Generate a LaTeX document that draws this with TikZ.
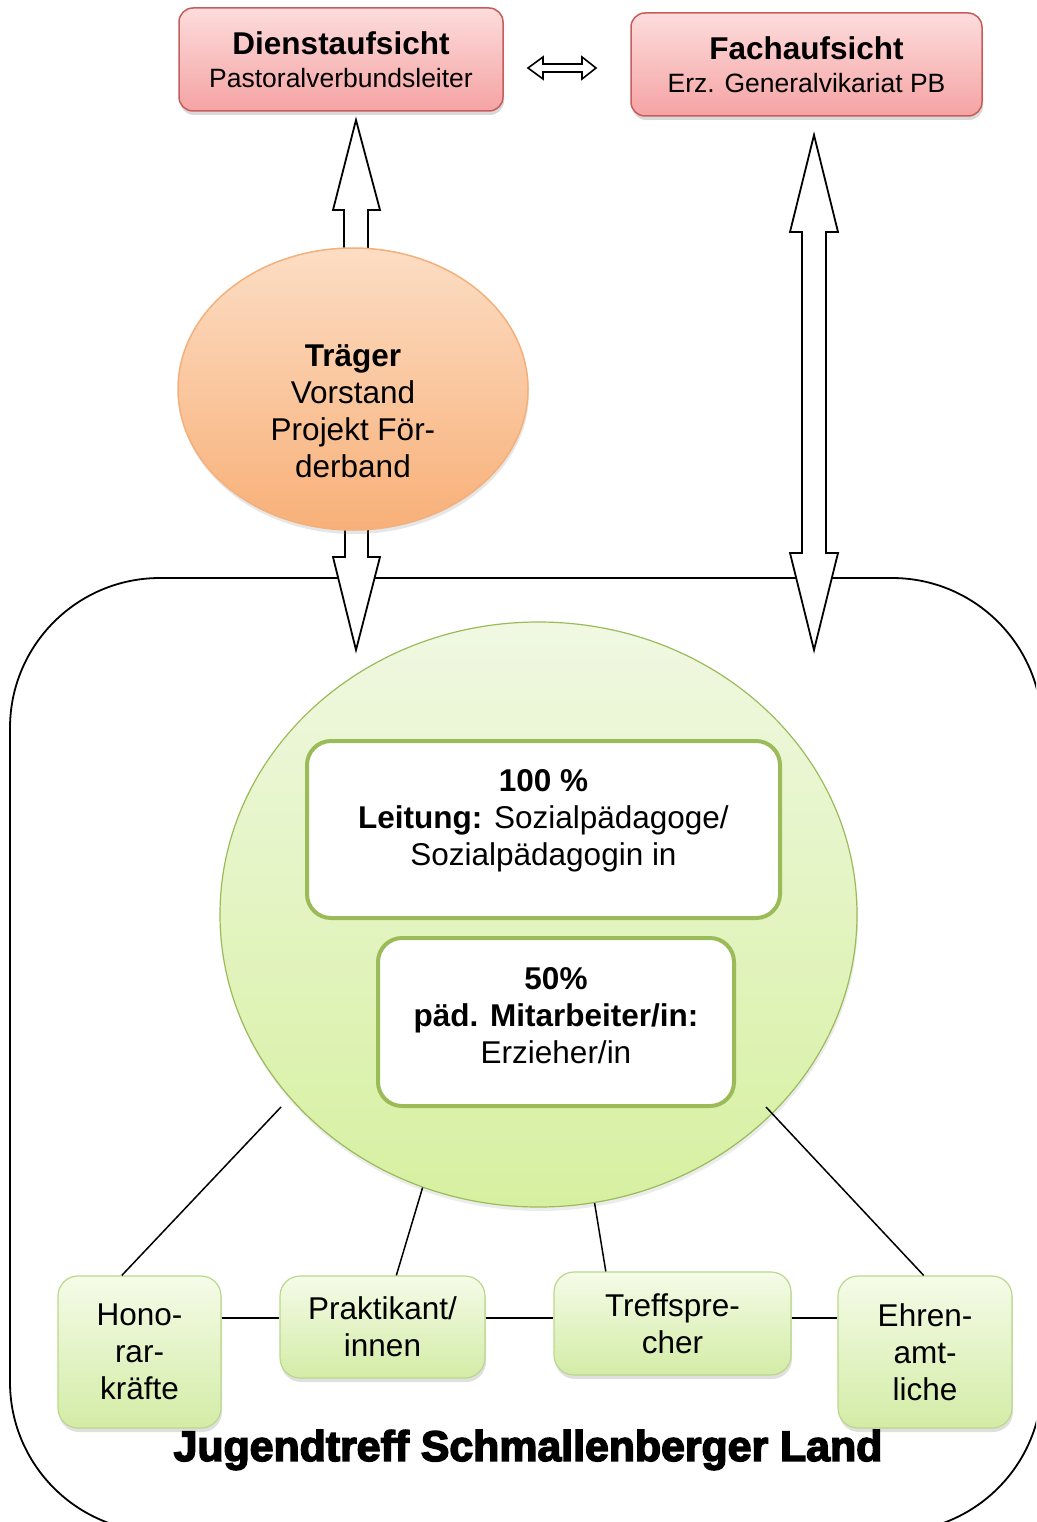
\documentclass[tikz,border=0pt]{standalone}
\usepackage{fontspec}
\setmainfont{Liberation Sans}
\newfontfamily\heavyfont[FakeBold=3.5]{Liberation Sans Bold}
\usetikzlibrary{shadows,shapes.geometric}
\definecolor{pinktop}{HTML}{FDDCDC}
\definecolor{pinkbot}{HTML}{F5A3A3}
\definecolor{pinkline}{HTML}{C65D5A}
\definecolor{orgtop}{HTML}{FCDDC4}
\definecolor{orgbot}{HTML}{F8B078}
\definecolor{orgline}{HTML}{F4B07A}
\definecolor{grntop}{HTML}{F0F8E2}
\definecolor{grnmid}{HTML}{D9EEB2}
\definecolor{grnbot}{HTML}{D6F0A0}
\definecolor{grnline}{HTML}{9BBB59}
\definecolor{btop}{HTML}{F5FBE8}
\definecolor{bbot}{HTML}{D3ECA6}
\definecolor{bline}{HTML}{B9D88C}
\tikzset{
  txt/.style={font=\fontsize{31.5}{37}\selectfont, align=center, inner sep=0pt},
  pinkbox/.style={draw=pinkline, line width=1.5pt, rounded corners=14pt, top color=pinktop, bottom color=pinkbot,
     drop shadow={opacity=0.3, shadow xshift=1pt, shadow yshift=-4pt}, align=center, inner sep=0pt,
     font=\fontsize{26.5}{33}\selectfont},
  innerbox/.style={draw=grnline, line width=4pt, rounded corners=24pt, fill=white},
  smallbox/.style={draw=bline, line width=1.2pt, rounded corners=20pt, top color=btop, bottom color=bbot,
     drop shadow={opacity=0.25, shadow xshift=1pt, shadow yshift=-4pt},
     font=\fontsize{31.5}{37}\selectfont, align=center, inner sep=0pt},
  blockarrow/.style={draw=black, line width=1.8pt, fill=white, line join=miter},
  conn/.style={draw=black, line width=1.5pt},
}
\begin{document}
\begin{tikzpicture}[x=1pt, y={(0pt,-1pt)}]
\useasboundingbox (0,0) rectangle (1036,1522);
\clip (0,0) rectangle (1036,1522);
% outer frame
\draw[line width=1.8pt, rounded corners=150pt] (10,578) rectangle (1042,1532);
% top boxes
\node[pinkbox, minimum width=324pt, minimum height=103pt] (dienst) at (341,59.5)
  {{\fontsize{31.5}{33}\selectfont\bfseries Dienstaufsicht}\\Pastoralverbundsleiter};
\node[pinkbox, minimum width=351pt, minimum height=103pt] (fach) at (806.5,64.5)
  {{\fontsize{31.5}{33}\selectfont\bfseries Fachaufsicht}\\Erz. Generalvikariat PB};
% horizontal double arrow
\draw[blockarrow, line width=1.6pt] (528,68)--(543,57)--(543,64)--(582,64)--(582,57)--(596,68)--(582,79)--(582,72)--(543,72)--(543,79)--cycle;
% up arrow from traeger
\draw[blockarrow] (344,252)--(344,210)--(333,210)--(356,120)--(380,210)--(368,210)--(368,252);
% down arrow
\draw[blockarrow] (345,526)--(345,557)--(333,557)--(356,650)--(380,557)--(368,557)--(368,526);
% long double arrow
\draw[blockarrow] (814,135)--(838,232)--(826,232)--(826,553)--(838,553)--(814,650)--(790,553)--(802,553)--(802,232)--(790,232)--cycle;
% traeger ellipse
\node[ellipse, draw=orgline, line width=1.5pt, top color=orgtop, bottom color=orgbot,
   minimum width=350pt, minimum height=282pt, inner sep=0pt,
   drop shadow={opacity=0.2, shadow xshift=1pt, shadow yshift=-4pt}] (traeger) at (353,389) {};
\node[txt] (traegertext) at (353,411) {\textbf{Träger}\\Vorstand\\Projekt För-\\derband};
% green circle
\node[ellipse, draw=grnline, line width=1.2pt, top color=grntop, middle color=grnmid, bottom color=grnbot,
   minimum width=637pt, minimum height=585pt, inner sep=0pt,
   drop shadow={opacity=0.15, shadow xshift=1pt, shadow yshift=-4pt}] (circ) at (538.5,914.5) {};
\node[innerbox, minimum width=473pt, minimum height=177pt] (leitung) at (543.5,829.5) {};
\node[txt] (leitungtext) at (543.5,821) {\textbf{100 \%}\\\textbf{Leitung:} Sozialpädagoge/\\Sozialpädagogin in};
\node[innerbox, minimum width=356pt, minimum height=168pt] (mitarb) at (556,1022) {};
\node[txt] (mitarbtext) at (556,1016) {\textbf{50\%}\\\textbf{päd. Mitarbeiter/in:}\\Erzieher/in};
% bottom boxes
\node[smallbox, minimum width=163pt, minimum height=152pt] (hono) at (139.5,1352) {Hono-\\rar-\\kräfte};
\node[smallbox, minimum width=205pt, minimum height=102pt] (prakt) at (382.5,1327) {Praktikant/\\innen};
\node[smallbox, minimum width=237pt, minimum height=103pt] (treff) at (672.5,1323.5) {Treffspre-\\cher};
\node[smallbox, minimum width=174pt, minimum height=152pt] (ehren) at (925,1352) {Ehren-\\amt-\\liche};
% connectors
\coordinate (hl) at (0,1318);
\coordinate (cl) at (281,1107);
\coordinate (cr) at (766,1107);
\draw[conn] (cl) -- (hono.103);
\draw[conn] (circ.247.7) -- (prakt.75.4);
\draw[conn] (circ.281.2) -- (treff.142.6);
\draw[conn] (cr) -- (ehren.91.5);
\draw[conn] (hono.east |- hl) -- (prakt.west |- hl);
\draw[conn] (prakt.east |- hl) -- (treff.west |- hl);
\draw[conn] (treff.east |- hl) -- (ehren.west |- hl);
% title
\node[inner sep=0pt, font=\heavyfont\fontsize{42.8}{46}\selectfont] (title) at (528,1450) {Jugendtreff Schmallenberger Land};
\end{tikzpicture}
\end{document}
